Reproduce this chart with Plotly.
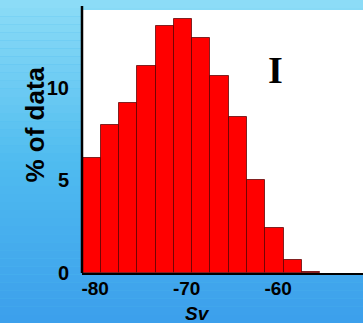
import plotly.graph_objects as go

# Data
bin_centers = [-80.4, -78.4, -76.4, -74.4, -72.4, -70.4, -68.4, -66.4, -64.4, -62.4, -60.4, -58.4, -56.4]
pct_data = [6.23, 7.97, 9.16, 11.15, 13.36, 13.70, 12.71, 10.62, 8.41, 5.0, 2.44, 0.69, 0.08]
x_ticks = [-80, -70, -60]
y_ticks = [0, 5, 10]

W, H = 363, 323
ml, mr, mt, mb = 82, 0, 10, 50

fig = go.Figure()
fig.add_trace(go.Bar(
    x=bin_centers, y=pct_data, width=2,
    marker=dict(color="#FF0000", line=dict(color="rgba(90,0,0,0.75)", width=1)),
    showlegend=False, hoverinfo="skip",
))

# background gradient bands (paper coords covering full figure)
pw, ph = W - ml - mr, H - mt - mb
x0p, x1p = -ml / pw, 1 + mr / pw
y0p, y1p = -mb / ph, 1 + mt / ph
top = (140, 220, 247)
mid = (80, 188, 240)
bot = (60, 160, 236)
n = 40
shapes = []
for i in range(n):
    t = i / (n - 1)
    if t < 0.5:
        a, b, u = top, mid, t / 0.5
    else:
        a, b, u = mid, bot, (t - 0.5) / 0.5
    c = tuple(int(a[k] + (b[k] - a[k]) * u) for k in range(3))
    ya = y1p - (y1p - y0p) * i / n
    yb = y1p - (y1p - y0p) * (i + 1) / n
    shapes.append(dict(type="rect", xref="paper", yref="paper", x0=x0p, x1=x1p, y0=yb, y1=ya,
                       fillcolor="rgb(%d,%d,%d)" % c, line=dict(width=0), layer="below"))
shapes.append(dict(type="rect", xref="paper", yref="paper", x0=0, x1=1, y0=0, y1=1,
                   fillcolor="white", line=dict(width=0), layer="below"))
# y axis line extends slightly above plot
shapes.append(dict(type="line", xref="paper", yref="paper", x0=0, x1=0, y0=0, y1=1 + 4 / ph,
                   line=dict(color="black", width=2.5)))

fig.update_layout(
    width=W, height=H,
    margin=dict(l=ml, r=mr, t=mt, b=mb, pad=0),
    paper_bgcolor="rgb(80,188,240)",
    plot_bgcolor="rgba(0,0,0,0)",
    bargap=0,
    shapes=shapes,
    font=dict(family="Liberation Sans, Arial", color="black"),
    xaxis=dict(range=[-81.44, -50.73], tickvals=x_ticks, ticktext=[str(v) for v in x_ticks],
               showgrid=False, zeroline=False, showline=True, linecolor="black", linewidth=2,
               ticks="", ticklabelstandoff=-3,
               tickfont=dict(size=19, family="Liberation Sans", weight="bold")),
    yaxis=dict(range=[0, 14.2], tickvals=y_ticks, ticktext=[str(v) for v in y_ticks],
               showgrid=False, zeroline=False, showline=False,
               ticks="outside", ticklen=8, tickcolor="rgba(0,0,0,0)",
               tickfont=dict(size=20, family="Liberation Sans", weight="bold")),
    annotations=[
        dict(text="% of data", xref="paper", yref="paper", x=-(ml - 34) / pw, y=(273 - 124.5) / ph,
             textangle=-90, showarrow=False, xanchor="center", yanchor="middle",
             font=dict(size=26, family="Liberation Sans", weight="bold")),
        dict(text="<b><i>Sv</i></b>", xref="paper", yref="paper", x=(197 - ml) / pw, y=-(313 - 273) / ph,
             showarrow=False, xanchor="center", yanchor="middle",
             font=dict(size=19, family="Liberation Sans")),
        dict(text="<b>I</b>", xref="paper", yref="paper", x=(275.5 - ml) / pw, y=(273 - 70) / ph,
             showarrow=False, xanchor="center", yanchor="middle",
             font=dict(size=38, family="Liberation Serif")),
    ],
)

fig.write_html("out.html", config={"displayModeBar": False},
               post_script="document.body.style.margin='0';document.body.style.overflow='hidden';")
